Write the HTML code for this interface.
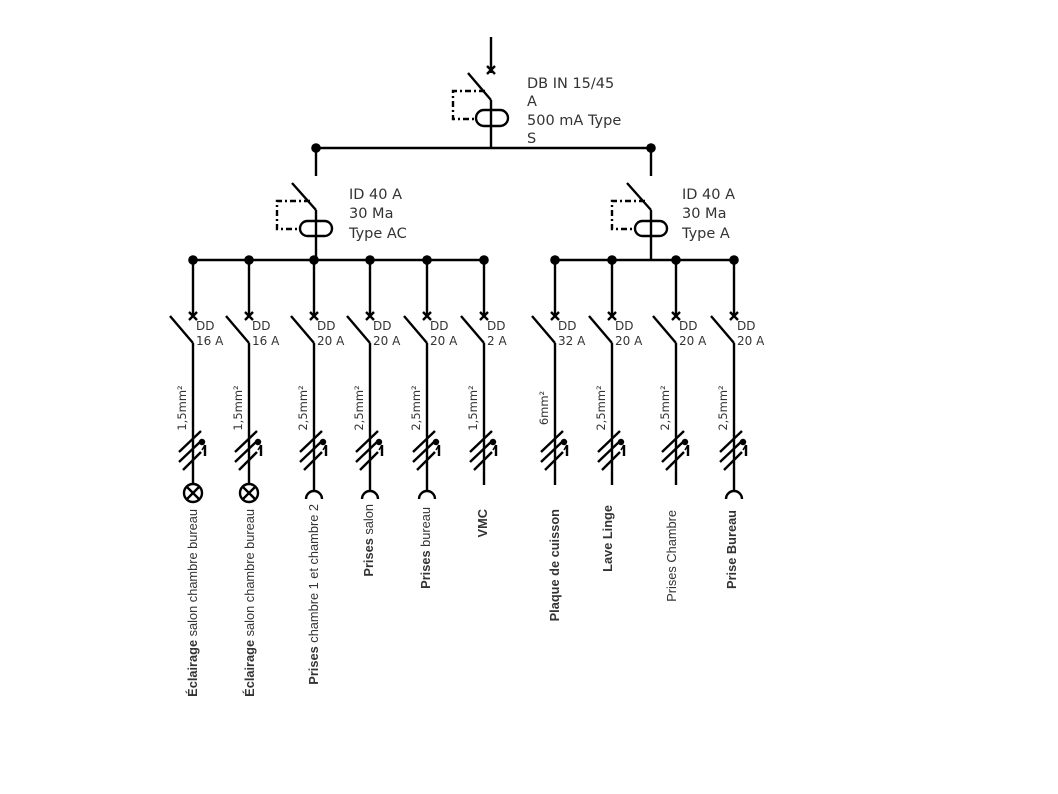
<!DOCTYPE html>
<html><head><meta charset="utf-8"><style>
html,body{margin:0;padding:0;background:#fff;}
svg{display:block;}
.t{font-family:"Liberation Sans","DejaVu Sans",sans-serif;fill:#333;}
.d{font-family:"DejaVu Sans","Liberation Sans",sans-serif;fill:#333;}
</style></head><body>
<svg width="1058" height="794" viewBox="0 0 1058 794" xmlns="http://www.w3.org/2000/svg">
<defs>
<g id="cable" stroke="#000" stroke-width="2.4" fill="none">
  <line x1="-14" y1="452" x2="8" y2="431"/>
  <line x1="-14" y1="462" x2="8" y2="441"/>
  <line x1="-10" y1="470" x2="8" y2="452"/>
  <circle cx="9" cy="442" r="3.2" fill="#000" stroke="none"/>
  <line x1="12" y1="445" x2="12" y2="456"/>
  <line x1="12" y1="445" x2="9" y2="450" stroke-width="1.5"/>
</g>
<g id="br" stroke="#000" stroke-width="2.4" fill="none">
  <line x1="0" y1="260" x2="0" y2="316"/>
  <line x1="-4" y1="312" x2="4" y2="320"/>
  <line x1="-4" y1="320" x2="4" y2="312"/>
  <line x1="-23" y1="316" x2="0" y2="343"/>
  <line x1="0" y1="343" x2="0" y2="485"/>
  <circle cx="0" cy="260" r="4.8" fill="#000" stroke="none"/>
</g>
<g id="lamp" stroke="#000" stroke-width="2.4" fill="none">
  <circle cx="0" cy="493" r="9"/>
  <line x1="-6" y1="487" x2="6" y2="499"/>
  <line x1="-6" y1="499" x2="6" y2="487"/>
</g>
<g id="plug" stroke="#000" stroke-width="2.4" fill="none">
  <line x1="0" y1="485" x2="0" y2="490"/>
  <path d="M-8 499 A8 8 0 0 1 8 499"/>
</g>
</defs>

<g stroke="#000" stroke-width="2.4" fill="none">
  <line x1="491" y1="37" x2="491" y2="73"/>
  <line x1="487" y1="66" x2="495" y2="74"/>
  <line x1="487" y1="74" x2="495" y2="66"/>
  <line x1="468" y1="73" x2="491" y2="100"/>
  <line x1="491" y1="100" x2="491" y2="148"/>
  <rect x="476" y="110" width="32" height="16" rx="8"/>
  <path d="M485 91 H453 V119 H476" stroke-dasharray="6,3,2,3"/>
  <line x1="316" y1="148" x2="651" y2="148"/>
  <line x1="316" y1="148" x2="316" y2="176"/>
  <line x1="651" y1="148" x2="651" y2="176"/>
  <line x1="292" y1="183" x2="316" y2="210"/>
  <line x1="316" y1="210" x2="316" y2="260"/>
  <rect x="300" y="221" width="32" height="15" rx="7.5"/>
  <path d="M310 201 H277 V229 H300" stroke-dasharray="6,3,2,3"/>
  <line x1="627" y1="183" x2="651" y2="210"/>
  <line x1="651" y1="210" x2="651" y2="260"/>
  <rect x="635" y="221" width="32" height="15" rx="7.5"/>
  <path d="M645 201 H612 V229 H635" stroke-dasharray="6,3,2,3"/>
  <line x1="193" y1="260" x2="484" y2="260"/>
  <line x1="555" y1="260" x2="734" y2="260"/>
</g>
<circle cx="316" cy="148" r="4.8"/>
<circle cx="651" cy="148" r="4.8"/>

<text class="d" font-size="14.5"><tspan x="527" y="88">DB IN 15/45</tspan><tspan x="527" y="106">A</tspan><tspan x="527" y="125">500 mA Type</tspan><tspan x="527" y="143">S</tspan></text>
<text class="d" font-size="14.5"><tspan x="349" y="199">ID 40 A</tspan><tspan x="349" y="218">30 Ma</tspan><tspan x="349" y="238">Type AC</tspan></text>
<text class="d" font-size="14.5"><tspan x="682" y="199">ID 40 A</tspan><tspan x="682" y="218">30 Ma</tspan><tspan x="682" y="238">Type A</tspan></text>

<g>
<use href="#br" x="193"/><use href="#cable" x="193"/><use href="#lamp" x="193"/>
<use href="#br" x="249"/><use href="#cable" x="249"/><use href="#lamp" x="249"/>
<use href="#br" x="314"/><use href="#cable" x="314"/><use href="#plug" x="314"/>
<use href="#br" x="370"/><use href="#cable" x="370"/><use href="#plug" x="370"/>
<use href="#br" x="427"/><use href="#cable" x="427"/><use href="#plug" x="427"/>
<use href="#br" x="484"/><use href="#cable" x="484"/>
<use href="#br" x="555"/><use href="#cable" x="555"/>
<use href="#br" x="612"/><use href="#cable" x="612"/>
<use href="#br" x="676"/><use href="#cable" x="676"/>
<use href="#br" x="734"/><use href="#cable" x="734"/><use href="#plug" x="734"/>
</g>

<g class="d" font-size="12">
<text x="196" y="330">DD</text><text x="196" y="345">16 A</text>
<text x="252" y="330">DD</text><text x="252" y="345">16 A</text>
<text x="317" y="330">DD</text><text x="317" y="345">20 A</text>
<text x="373" y="330">DD</text><text x="373" y="345">20 A</text>
<text x="430" y="330">DD</text><text x="430" y="345">20 A</text>
<text x="487" y="330">DD</text><text x="487" y="345">2 A</text>
<text x="558" y="330">DD</text><text x="558" y="345">32 A</text>
<text x="615" y="330">DD</text><text x="615" y="345">20 A</text>
<text x="679" y="330">DD</text><text x="679" y="345">20 A</text>
<text x="737" y="330">DD</text><text x="737" y="345">20 A</text>
</g>

<g class="d" font-size="11.5" text-anchor="middle">
<text transform="translate(186,408) rotate(-90)">1,5mm²</text>
<text transform="translate(242,408) rotate(-90)">1,5mm²</text>
<text transform="translate(307,408) rotate(-90)">2,5mm²</text>
<text transform="translate(363,408) rotate(-90)">2,5mm²</text>
<text transform="translate(420,408) rotate(-90)">2,5mm²</text>
<text transform="translate(477,408) rotate(-90)">1,5mm²</text>
<text transform="translate(548,408) rotate(-90)">6mm²</text>
<text transform="translate(605,408) rotate(-90)">2,5mm²</text>
<text transform="translate(669,408) rotate(-90)">2,5mm²</text>
<text transform="translate(727,408) rotate(-90)">2,5mm²</text>
</g>

<g class="t" font-size="12.8" text-anchor="end">
<text transform="translate(197,509) rotate(-90)"><tspan font-weight="bold">Éclairage</tspan> salon chambre bureau</text>
<text transform="translate(254,509) rotate(-90)"><tspan font-weight="bold">Éclairage</tspan> salon chambre bureau</text>
<text transform="translate(318,504) rotate(-90)"><tspan font-weight="bold">Prises</tspan> chambre 1 et chambre 2</text>
<text transform="translate(373,504) rotate(-90)"><tspan font-weight="bold">Prises</tspan> salon</text>
<text transform="translate(430,507) rotate(-90)"><tspan font-weight="bold">Prises</tspan> bureau</text>
<text transform="translate(487,509) rotate(-90)" font-weight="bold">VMC</text>
<text transform="translate(559,509) rotate(-90)" font-weight="bold">Plaque de cuisson</text>
<text transform="translate(612,505) rotate(-90)" font-weight="bold">Lave Linge</text>
<text transform="translate(676,510) rotate(-90)">Prises Chambre</text>
<text transform="translate(736,510) rotate(-90)" font-weight="bold">Prise Bureau</text>
</g>
</svg>
</body></html>
